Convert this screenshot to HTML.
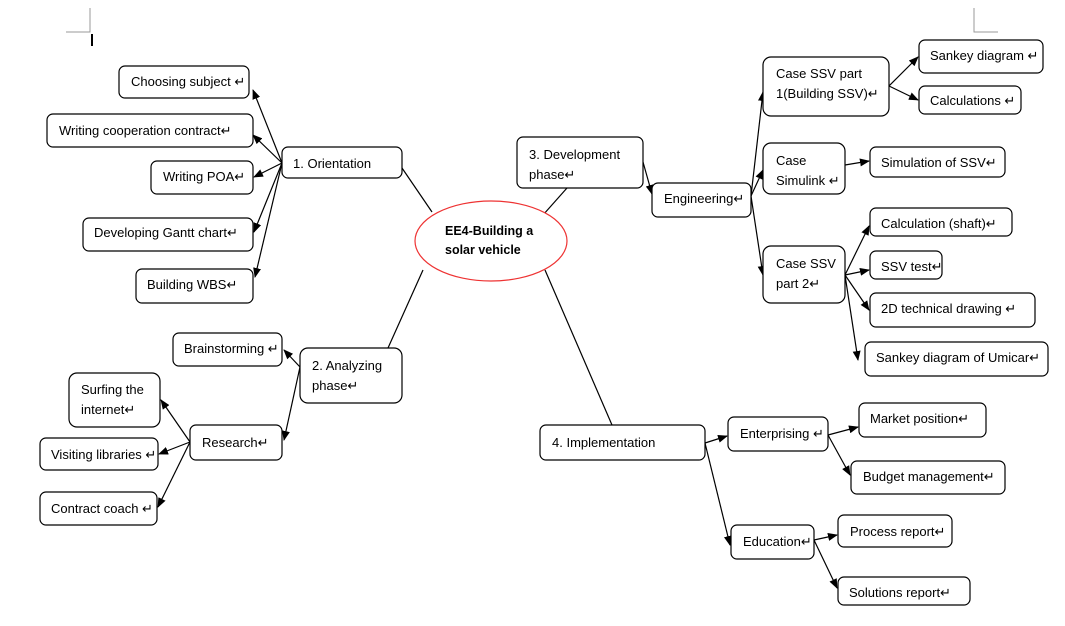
<!DOCTYPE html>
<html><head><meta charset="utf-8"><style>
html,body{margin:0;padding:0;background:#fff;}
svg{display:block;font-family:"Liberation Sans",sans-serif;font-size:13px;}
</style></head><body>
<svg width="1065" height="626" viewBox="0 0 1065 626" xmlns="http://www.w3.org/2000/svg">
<defs><marker id="a" markerWidth="10" markerHeight="8" refX="9" refY="4" orient="auto" markerUnits="userSpaceOnUse"><path d="M0,0 L10,4 L0,8 z" fill="#000"/></marker></defs>
<g stroke="#999" fill="none"><path d="M90,8 V32 H66"/><path d="M974,8 V32 H998"/></g>
<line x1="92" y1="34" x2="92" y2="46" stroke="#000" stroke-width="2"/>
<g stroke="#000" stroke-width="1.2" fill="none">
<line x1="402" y1="168" x2="432" y2="212"/>
<line x1="543" y1="215" x2="567" y2="188"/>
<line x1="423" y1="270" x2="388" y2="348"/>
<line x1="545" y1="270" x2="612" y2="425"/>
</g>
<g stroke="#000" stroke-width="1.2" marker-end="url(#a)">
<line x1="282" y1="163" x2="253" y2="90"/>
<line x1="282" y1="163" x2="253" y2="135"/>
<line x1="282" y1="163" x2="254" y2="177"/>
<line x1="282" y1="163" x2="254" y2="232"/>
<line x1="282" y1="163" x2="255" y2="277"/>
<line x1="643" y1="162" x2="652" y2="194"/>
<line x1="751" y1="196" x2="763" y2="92"/>
<line x1="751" y1="196" x2="763" y2="170"/>
<line x1="751" y1="196" x2="763" y2="275"/>
<line x1="889" y1="86" x2="918" y2="57"/>
<line x1="889" y1="86" x2="918" y2="100"/>
<line x1="845" y1="165" x2="869" y2="161"/>
<line x1="845" y1="275" x2="869" y2="226"/>
<line x1="845" y1="275" x2="869" y2="270"/>
<line x1="845" y1="275" x2="869" y2="310"/>
<line x1="845" y1="275" x2="858" y2="360"/>
<line x1="300" y1="367" x2="284" y2="350"/>
<line x1="300" y1="367" x2="284" y2="440"/>
<line x1="190" y1="442" x2="161" y2="400"/>
<line x1="190" y1="442" x2="159" y2="454"/>
<line x1="190" y1="442" x2="158" y2="507"/>
<line x1="705" y1="443" x2="727" y2="436"/>
<line x1="705" y1="443" x2="730" y2="545"/>
<line x1="828" y1="435" x2="858" y2="427"/>
<line x1="828" y1="435" x2="850" y2="475"/>
<line x1="814" y1="540" x2="837" y2="535"/>
<line x1="814" y1="540" x2="837" y2="588"/>
</g>
<ellipse cx="491" cy="241" rx="76" ry="40" fill="#fff" stroke="#e33" stroke-width="1.2"/>
<text x="445" y="235" font-weight="bold" font-size="12.5">EE4-Building a</text>
<text x="445" y="254" font-weight="bold" font-size="12.5">solar vehicle</text>
<g fill="#fff" stroke="#000" stroke-width="1.2">
<rect x="119" y="66" width="130" height="32" rx="6"/>
<rect x="47" y="114" width="206" height="33" rx="6"/>
<rect x="151" y="161" width="102" height="33" rx="6"/>
<rect x="83" y="218" width="170" height="33" rx="6"/>
<rect x="136" y="269" width="117" height="34" rx="6"/>
<rect x="282" y="147" width="120" height="31" rx="6"/>
<rect x="517" y="137" width="126" height="51" rx="6"/>
<rect x="652" y="183" width="99" height="34" rx="6"/>
<rect x="763" y="57" width="126" height="59" rx="8"/>
<rect x="919" y="40" width="124" height="33" rx="6"/>
<rect x="919" y="86" width="102" height="28" rx="6"/>
<rect x="763" y="143" width="82" height="51" rx="8"/>
<rect x="870" y="147" width="135" height="30" rx="6"/>
<rect x="870" y="208" width="142" height="28" rx="6"/>
<rect x="870" y="251" width="72" height="28" rx="6"/>
<rect x="763" y="246" width="82" height="57" rx="8"/>
<rect x="870" y="293" width="165" height="34" rx="6"/>
<rect x="865" y="342" width="183" height="34" rx="6"/>
<rect x="300" y="348" width="102" height="55" rx="8"/>
<rect x="173" y="333" width="109" height="33" rx="6"/>
<rect x="190" y="425" width="92" height="35" rx="6"/>
<rect x="69" y="373" width="91" height="54" rx="8"/>
<rect x="40" y="438" width="118" height="32" rx="6"/>
<rect x="40" y="492" width="117" height="33" rx="6"/>
<rect x="540" y="425" width="165" height="35" rx="6"/>
<rect x="728" y="417" width="100" height="34" rx="6"/>
<rect x="859" y="403" width="127" height="34" rx="6"/>
<rect x="851" y="461" width="154" height="33" rx="6"/>
<rect x="731" y="525" width="83" height="34" rx="6"/>
<rect x="838" y="515" width="114" height="32" rx="6"/>
<rect x="838" y="577" width="132" height="28" rx="6"/>
</g>
<g fill="#000">
<text x="131" y="86">Choosing subject ↵</text>
<text x="59" y="135">Writing cooperation contract↵</text>
<text x="163" y="181">Writing POA↵</text>
<text x="94" y="237">Developing Gantt chart↵</text>
<text x="147" y="289">Building WBS↵</text>
<text x="293" y="168">1. Orientation</text>
<text x="529" y="159">3. Development</text>
<text x="529" y="179">phase↵</text>
<text x="664" y="203">Engineering↵</text>
<text x="776" y="78">Case SSV part</text>
<text x="776" y="98">1(Building SSV)↵</text>
<text x="930" y="60">Sankey diagram ↵</text>
<text x="930" y="105">Calculations ↵</text>
<text x="776" y="165">Case</text>
<text x="776" y="185">Simulink ↵</text>
<text x="881" y="167">Simulation  of SSV↵</text>
<text x="881" y="228">Calculation (shaft)↵</text>
<text x="881" y="271">SSV test↵</text>
<text x="776" y="268">Case SSV</text>
<text x="776" y="288">part 2↵</text>
<text x="881" y="313">2D technical drawing ↵</text>
<text x="876" y="362">Sankey diagram of Umicar↵</text>
<text x="312" y="370">2. Analyzing</text>
<text x="312" y="390">phase↵</text>
<text x="184" y="353">Brainstorming ↵</text>
<text x="202" y="447">Research↵</text>
<text x="81" y="394">Surfing the</text>
<text x="81" y="414">internet↵</text>
<text x="51" y="459">Visiting libraries ↵</text>
<text x="51" y="513">Contract coach ↵</text>
<text x="552" y="447">4. Implementation</text>
<text x="740" y="438">Enterprising ↵</text>
<text x="870" y="423">Market position↵</text>
<text x="863" y="481">Budget management↵</text>
<text x="743" y="546">Education↵</text>
<text x="850" y="536">Process report↵</text>
<text x="849" y="597">Solutions report↵</text>
</g>
</svg>
</body></html>
